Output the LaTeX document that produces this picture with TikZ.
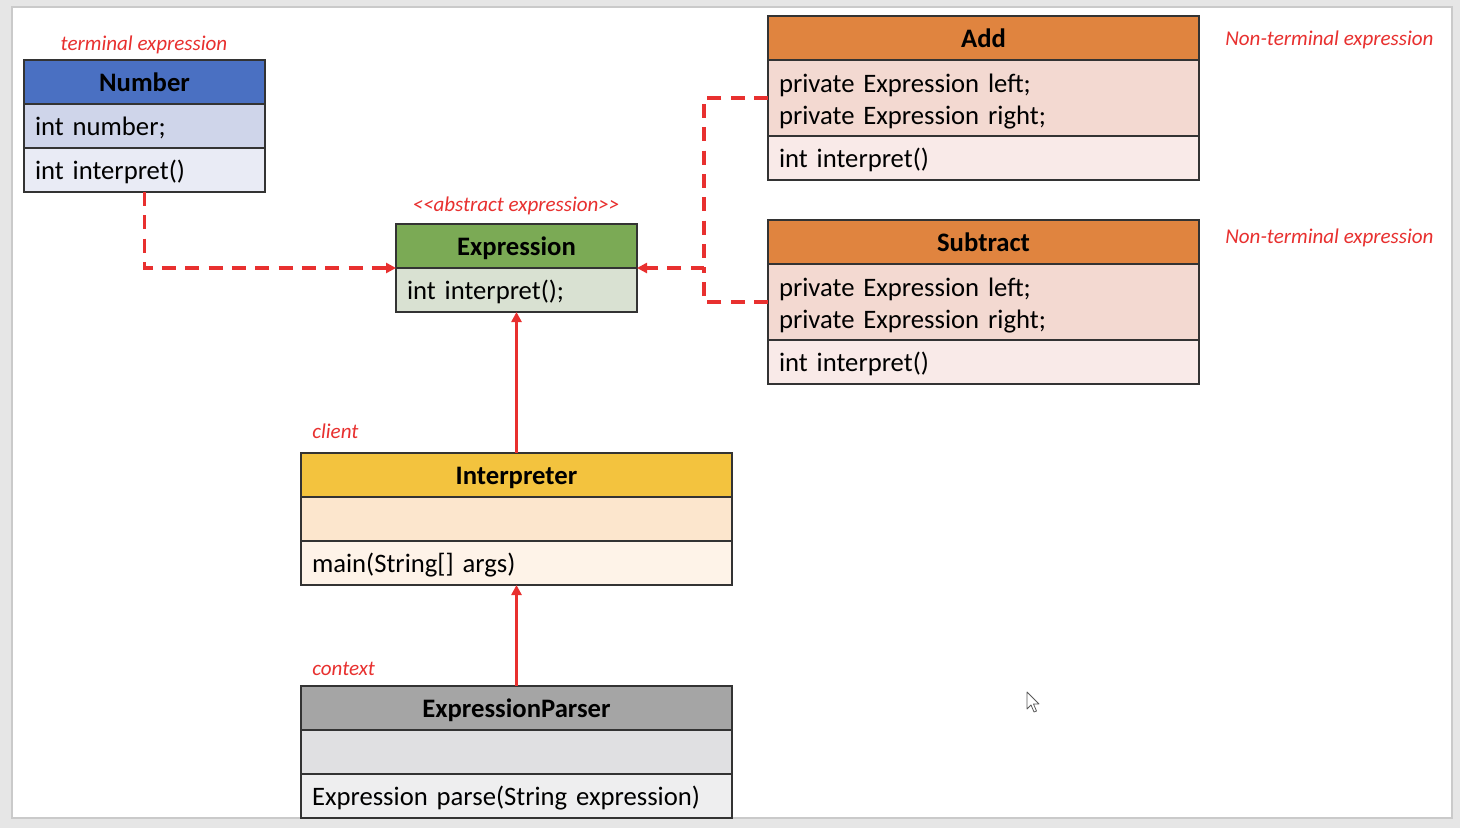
\documentclass[tikz,border=0pt]{standalone}
\usepackage{fontspec}
\setmainfont{Carlito}
\usetikzlibrary{arrows.meta,calc}
\definecolor{redc}{HTML}{E8302F}
\definecolor{bgc}{HTML}{E6E6E6}
\definecolor{framec}{HTML}{CACACA}
\definecolor{bdc}{HTML}{333333}
\definecolor{numH}{HTML}{4A70C2}
\definecolor{numA}{HTML}{CFD5EA}
\definecolor{numM}{HTML}{E9EBF5}
\definecolor{expH}{HTML}{7BAA55}
\definecolor{expM}{HTML}{D9E1D2}
\definecolor{orH}{HTML}{E0843F}
\definecolor{orA}{HTML}{F3D9D1}
\definecolor{orM}{HTML}{F9EAE8}
\definecolor{goH}{HTML}{F3C33E}
\definecolor{goA}{HTML}{FCE6CD}
\definecolor{goM}{HTML}{FEF3E8}
\definecolor{grH}{HTML}{A5A5A5}
\definecolor{grA}{HTML}{E0E0E2}
\definecolor{grM}{HTML}{EEEEEF}
\tikzset{
  cbox/.style={draw=bdc, line width=1.5pt, anchor=north west, outer sep=0pt,
    inner xsep=8.25pt, inner ysep=0pt, minimum height=33pt},
  one/.style={text height=16.6pt, text depth=2.5pt},
  hdr/.style={cbox, one, font=\bfseries\fontsize{20}{24}\selectfont, align=center},
  row/.style={cbox, font=\fontsize{20}{24}\selectfont, align=left},
  tworow/.style={minimum height=57pt},
  narrow/.style={text width=164.25pt},
  wide/.style={text width=306.75pt},
  lbl/.style={text=redc, font=\itshape\fontsize{15.8}{18}\selectfont, inner sep=0pt},
  dep/.style={draw=redc, line width=2.6pt, dash pattern=on 10.5pt off 7pt,
    -{Triangle[length=7.5pt,width=7.5pt]}},
  solidarr/.style={draw=redc, line width=2.2pt, -{Triangle[length=7.5pt,width=7.5pt]}}
}
\begin{document}
\begin{tikzpicture}[x=0.75pt,y=-0.75pt]
\useasboundingbox (0,0) rectangle (1460,828);
\fill[bgc] (0,0) rectangle (1460,828);
\draw[fill=white, draw=framec, line width=1pt] (12,7) rectangle (1452,818);

% Number
\node[hdr, narrow, fill=numH] (nH) at (24,60) {Number};
\node[row, one, narrow, fill=numA] (nA) at (nH.south west) {int number;};
\node[row, one, narrow, fill=numM] (nM) at (nA.south west) {int interpret()};
\node[lbl, anchor=center] (lT) at (144,45) {terminal expression};

% Expression
\node[hdr, narrow, fill=expH] (eH) at (396,224) {Expression};
\node[row, one, narrow, fill=expM] (eM) at (eH.south west) {int interpret();};
\node[lbl, anchor=center] (lA) at (516,206) {{<}{<}abstract expression{>}{>}};

% Add
\node[hdr, wide, fill=orH] (aH) at (768,16) {Add};
\node[row, wide, fill=orA, tworow] (aA) at (aH.south west) {\rule{0pt}{19pt}private Expression left;\\private Expression right;};
\node[row, one, wide, fill=orM] (aM) at (aA.south west) {int interpret()};
\node[lbl, anchor=west] (lN1) at (1225,40) {Non-terminal expression};

% Subtract
\node[hdr, wide, fill=orH] (sH) at (768,220) {Subtract};
\node[row, wide, fill=orA, tworow] (sA) at (sH.south west) {\rule{0pt}{19pt}private Expression left;\\private Expression right;};
\node[row, one, wide, fill=orM] (sM) at (sA.south west) {int interpret()};
\node[lbl, anchor=west] (lN2) at (1225,238) {Non-terminal expression};

% Interpreter
\node[hdr, wide, fill=goH] (iH) at (301,453) {Interpreter};
\node[row, one, wide, fill=goA] (iA) at (iH.south west) {};
\node[row, one, wide, fill=goM] (iM) at (iA.south west) {main(String[] args)};
\node[lbl, anchor=west] (lC) at (312,431) {client};

% ExpressionParser
\node[hdr, wide, fill=grH] (pH) at (301,686) {ExpressionParser};
\node[row, one, wide, fill=grA] (pA) at (pH.south west) {};
\node[row, one, wide, fill=grM] (pM) at (pA.south west) {Expression parse(String expression)};
\node[lbl, anchor=west] (lX) at (312,669) {context};

% connectors
\draw[dep] (nM.south) |- (eH.south west);
\path (aA.west) ++(-64,0) coordinate (jx);
\coordinate (jn) at (jx |- eH.south east);
\draw[dep] (aA.west) -| (jn) -- (eH.south east);
\draw[dep, -] (sA.west) -| (jn);
\draw[solidarr] (iH.north) -- (eM.south);
\draw[solidarr] (pH.north) -- (iM.south);

% mouse pointer
\draw[fill=white, draw=black!65, line width=0.6pt, line join=round]
  (1027,692) -- (1027,709) -- (1031,705) -- (1034,712) -- (1036.5,711) -- (1033.5,704) -- (1039,704) -- cycle;
\end{tikzpicture}
\end{document}
